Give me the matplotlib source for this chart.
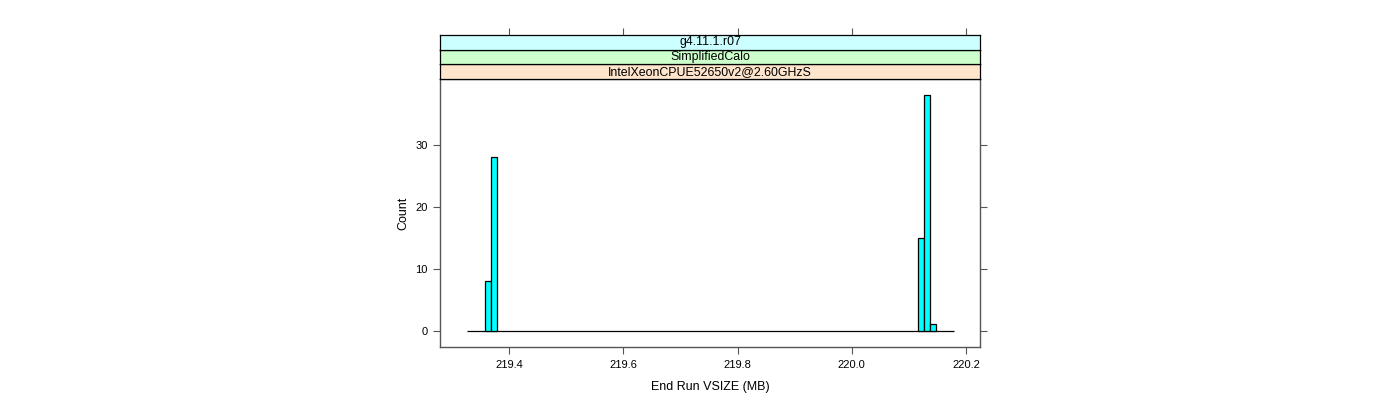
import matplotlib
matplotlib.use("Agg")
import matplotlib.pyplot as plt
import numpy as np

plt.rcParams['font.family'] = ['Liberation Sans', 'DejaVu Sans']

# Histogram data (equal-width bins)
bin_start = 219.327
bin_width = 0.010384
counts = [0, 0, 0, 8, 28] + [0] * 71 + [15, 38, 1] + [0] * 3
strip_labels = ["IntelXeonCPUE52650v2@2.60GHzS", "SimplifiedCalo", "g4.11.1.r07"]
strip_colors = ["#ffe5cc", "#ccffcc", "#ccffff"]
x_ticks = [219.4, 219.6, 219.8, 220.0, 220.2]
x_ticklabels = ["219.4", "219.6", "219.8", "220.0", "220.2"]
y_ticks = [0, 10, 20, 30]
xlabel = "End Run VSIZE (MB)"
ylabel = "Count"

W, H = 1400, 400
fig = plt.figure(figsize=(14, 4), dpi=100)

pl, pr, pt, pb = 440, 980, 79, 347
ax = fig.add_axes([pl / W, 1 - pb / H, (pr - pl) / W, (pb - pt) / H])

counts_arr = np.array(counts)
lefts = bin_start + bin_width * np.arange(len(counts))
nz = counts_arr > 0
ax.hlines(0, lefts[0], lefts[-1] + bin_width, color='black', linewidth=0.9)
ax.bar(lefts[nz], counts_arr[nz], width=bin_width, align='edge', color='#00ffff',
       edgecolor='black', linewidth=0.9, zorder=3)
xlim = (219.2792, 220.2245)
ax.set_xlim(*xlim)
ax.set_ylim(-2.66, 40.66)

frame_col = '#555555'
for s in ax.spines.values():
    s.set_color(frame_col)
    s.set_linewidth(1)
ax.set_xticks(x_ticks)
ax.set_xticklabels(x_ticklabels)
ax.set_yticks(y_ticks)
ax.tick_params(axis='both', direction='out', length=5, width=0.8, color=frame_col,
               labelsize=8, pad=4)
ax.tick_params(axis='y', right=True, left=True)
ax.tick_params(axis='x', top=False)
ax.set_xlabel(xlabel, fontsize=9, labelpad=8)
ax.set_ylabel(ylabel, fontsize=9, labelpad=4)

# strips
sh = 14.7
for i, (lab, col) in enumerate(zip(strip_labels, strip_colors)):
    top = pt - sh * (i + 1)
    sax = fig.add_axes([pl / W, 1 - (top + sh) / H, (pr - pl) / W, sh / H])
    sax.set_facecolor(col)
    sax.set_xlim(*xlim)
    sax.set_ylim(0, 1)
    for s in sax.spines.values():
        s.set_color('black')
        s.set_linewidth(0.9)
    sax.set_yticks([])
    if i == len(strip_labels) - 1:
        sax.set_xticks(x_ticks)
        sax.tick_params(axis='x', bottom=False, top=True, labelbottom=False,
                        labeltop=False, direction='out', length=5, width=0.8,
                        color=frame_col)
    else:
        sax.set_xticks([])
    sax.text(0.5, 0.5, lab, transform=sax.transAxes, ha='center', va='center',
             fontsize=8.9)

fig.savefig("out.png", dpi=100)
